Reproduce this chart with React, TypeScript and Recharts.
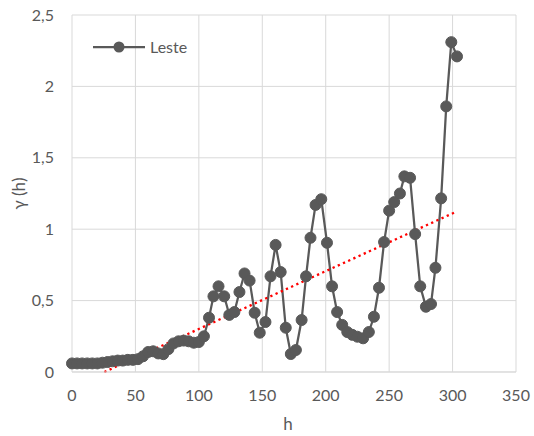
import { LineChart, Line, XAxis, YAxis, CartesianGrid } from 'recharts';

// lag distances (h) and semivariance values
const lags = [
  0, 4, 8, 12, 16, 20, 24, 28, 32, 36, 40, 44, 48, 52, 56, 60, 64, 68, 72, 76, 80, 84, 88, 92, 96,
  100, 104, 108, 111.5, 115.5, 120, 124, 128, 132, 136, 140, 144, 148, 152.5, 156.5, 160.5, 164.5,
  168.5, 172.5, 176.5, 181, 184.5, 188, 192, 196.5, 201, 205, 209, 213, 217, 221, 225, 229.5, 234,
  238, 242, 246, 250, 254, 258.5, 262, 266.5, 270.5, 274.5, 279, 283, 286.5, 291, 295, 299, 303.5,
];
const leste = [
  0.06, 0.06, 0.06, 0.06, 0.06, 0.06, 0.065, 0.07, 0.075, 0.08, 0.08, 0.085, 0.085, 0.09, 0.11,
  0.14, 0.145, 0.13, 0.125, 0.16, 0.2, 0.215, 0.22, 0.215, 0.205,
  0.21, 0.25, 0.38, 0.53, 0.6, 0.53, 0.4, 0.42, 0.56, 0.69, 0.64, 0.415, 0.275, 0.35, 0.67, 0.89,
  0.7, 0.31, 0.126, 0.154, 0.364, 0.67, 0.94, 1.17, 1.21, 0.905, 0.6, 0.42, 0.33, 0.28, 0.26, 0.247,
  0.236, 0.28, 0.387, 0.59, 0.91, 1.13, 1.19, 1.25, 1.37, 1.36, 0.966, 0.6, 0.457, 0.476, 0.73,
  1.216, 1.86, 2.31, 2.21,
];

// linear trend line end points
const trendLags = [25.5, 303.5];
const trendValues = [0, 1.125];

const xTicks = [0, 50, 100, 150, 200, 250, 300, 350];
const yTicks = [0, 0.5, 1, 1.5, 2, 2.5];

const data = lags.map((h, i) => ({ h, g: leste[i] }));
const trend = trendLags.map((h, i) => ({ h, g: trendValues[i] }));

const FONT = 'Lato, "Open Sans", sans-serif';
const TXT = '#595959';

function LegendBox() {
  return (
    <div
      style={{
        position: 'absolute',
        left: 93,
        top: 37,
        display: 'flex',
        alignItems: 'center',
        fontFamily: FONT,
        fontSize: 16,
        color: TXT,
      }}
    >
      <svg width={54} height={14}>
        <line x1={0} y1={7} x2={52} y2={7} stroke="#595959" strokeWidth={2.25} />
        <circle cx={26} cy={7} r={5.5} fill="#595959" />
      </svg>
      <span style={{ marginLeft: 3 }}>Leste</span>
    </div>
  );
}

export default function App() {
  return (
    <div style={{ position: 'absolute', left: 0, top: 0, width: 534, height: 436, background: '#fff' }}>
      <LineChart width={534} height={436} margin={{ top: 15, right: 18, bottom: 0, left: 0 }}>
        <CartesianGrid stroke="#d9d9d9" strokeWidth={1} />
        <XAxis
          dataKey="h"
          type="number"
          domain={[0, 350]}
          ticks={xTicks}
          height={64}
          tickLine={false}
          tickSize={0}
          tickMargin={18}
          axisLine={{ stroke: '#d9d9d9' }}
          tick={{ fill: TXT, fontSize: 16, fontFamily: FONT }}
          label={{ value: 'h', position: 'insideBottom', offset: 6, dx: -6, fill: TXT, fontSize: 17, fontFamily: FONT }}
        />
        <YAxis
          type="number"
          domain={[0, 2.5]}
          ticks={yTicks}
          width={72}
          tickLine={false}
          axisLine={false}
          tickSize={0}
          tickMargin={18}
          tickFormatter={(v: number) => String(v).replace('.', ',')}
          tick={{ fill: TXT, fontSize: 16, fontFamily: FONT }}
          label={{ value: 'γ (h)', angle: -90, position: 'insideLeft', offset: 19, fill: TXT, fontSize: 17, fontFamily: FONT, style: { textAnchor: 'middle' } }}
        />
        <Line
          data={data}
          dataKey="g"
          stroke="#595959"
          strokeWidth={2.25}
          dot={{ r: 5.5, fill: '#595959', stroke: '#595959', strokeWidth: 1 }}
          isAnimationActive={false}
        />
        <Line
          data={trend}
          dataKey="g"
          stroke="#ff0000"
          strokeWidth={2.3}
          strokeDasharray="2.3 3.4"
          dot={false}
          isAnimationActive={false}
        />
      </LineChart>
      <LegendBox />
    </div>
  );
}
